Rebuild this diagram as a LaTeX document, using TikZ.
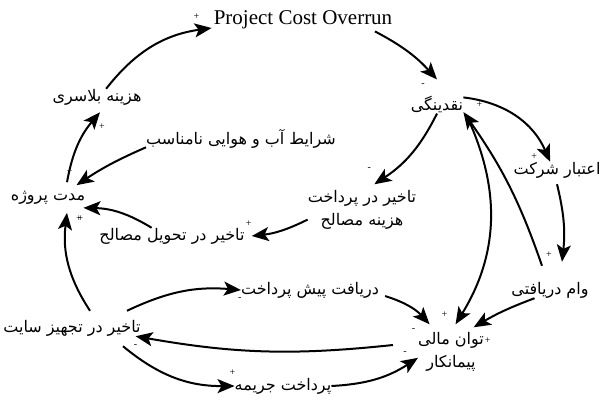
\documentclass[tikz,border=0pt]{standalone}
\usepackage{fontspec}
\setmainfont{Liberation Serif}
\newfontfamily\fafont[Script=Arabic]{DejaVu Sans}
\TeXXeTstate=1
\newcommand{\fa}[1]{{\fafont\beginR #1\endR}}
\usetikzlibrary{arrows.meta}
\tikzstyle{var} = [align=center, inner sep=0pt, font=\fontsize{16}{23}\selectfont]
\tikzstyle{line} = [draw, line width=2pt, -{Stealth[length=17pt,width=14pt,inset=4pt]}]
\tikzstyle{pol} = [inner sep=0pt, font=\fontsize{10}{10}\selectfont]

\begin{document}
\begin{tikzpicture}[x=1pt, y=1pt]
	\useasboundingbox (0,0) rectangle (604,416);

	\node [var, inner sep=2pt, font=\fontsize{21}{22}\selectfont] (cost) at (303,396) {Project Cost Overrun};
	\node [var] (liq) at (437,311) {\fa{نقدینگی}};
	\node [var] (credit) at (557,246) {\fa{اعتبار شرکت}};
	\node [var] (loan) at (550,126) {\fa{وام دریافتی}};
	\node [var] (fin) at (451,64) {\fa{توان مالی}\\\fa{پیمانکار}};
	\node [var] (prepay) at (310,126) {\fa{دریافت پیش پرداخت}};
	\node [var] (penalty) at (283,30) {\fa{پرداخت جریمه}};
	\node [var] (site) at (72,88) {\fa{تاخیر در تجهیز سایت}};
	\node [var] (duration) at (48,218) {\fa{مدت پروژه}};
	\node [var] (overhead) at (97,319) {\fa{هزینه بلاسری}};
	\node [var] (weather) at (241,277) {\fa{شرایط آب و هوایی نامناسب}};
	\node [var] (paydelay) at (362,206) {\fa{تاخیر در پرداخت}\\\fa{هزینه مصالح}};
	\node [var] (matdelay) at (172,180) {\fa{تاخیر در تحویل مصالح}};

	% outer loop
	\path [line] (overhead.42) to[bend left=22] node [pol, pos=1, xshift=-15pt, yshift=11pt] {+} (cost.185);
	\path [line] (cost.-9) to[bend left=10] node [pol, pos=1, xshift=-14pt, yshift=-6pt] {-} ([yshift=17pt]liq.north);
	\path [line] (liq.16) to[bend left=30] node [pol, pos=1, xshift=-16pt, yshift=5pt] {+} (credit.130);
	\path [line] ([yshift=-6pt]credit.south) to[bend left=10] node [pol, pos=1, xshift=-13pt, yshift=7pt] {+} ([xshift=12pt,yshift=20pt]loan.north);
	\path [line] (loan.208) to[bend right=5] node [pol, pos=1, xshift=14pt, yshift=-13pt] {+} ([yshift=5pt]fin.41);
	\path [line] ([xshift=-8pt,yshift=16pt]loan.north) to[bend right=8] node [pol, pos=1, xshift=16pt, yshift=7pt] {+} (liq.-15);
	\path [line] ([xshift=5pt,yshift=-6pt]liq.south east) to[bend left=28] node [pol, pos=1, xshift=-11pt, yshift=10pt] {+} ([yshift=8pt]fin.77);

	% material delays
	\path [line] (liq.south) to[bend left=15] node [pol, pos=1, xshift=-5pt, yshift=15pt] {-} ([yshift=6pt]paydelay.58);
	\path [line] (paydelay.190) to[bend left=10] node [pol, pos=1, xshift=-3pt, yshift=12pt] {+} ([xshift=7pt]matdelay.east);
	\path [line] (matdelay.158) to[bend right=15] node [pol, pos=1, xshift=-3pt, yshift=-11pt] {+} ([xshift=8pt,yshift=-3pt]duration.-14);
	\path [line] (weather.185) to[bend right=5] node [pol, pos=1, xshift=-7pt, yshift=13pt] {+} ([xshift=3pt,yshift=6pt]duration.15);
	\path [line] ([xshift=19pt,yshift=9pt]duration.north) to[bend left=15] node [pol, pos=1, xshift=2pt, yshift=-14pt] {+} ([xshift=3pt,yshift=-7pt]overhead.south);

	% site loop
	\path [line] ([xshift=18pt,yshift=9pt]site.north) to[bend left=20] node [pol, pos=1, xshift=12pt, yshift=-6pt] {+} ([xshift=19pt,yshift=-8pt]duration.south);
	\path [line] ([xshift=55pt,yshift=9pt]site.north) to[bend left=15] node [pol, pos=1, xshift=-1pt, yshift=-9pt] {-} (prepay.west);
	\path [line] ([xshift=-25pt,yshift=7pt]fin.west) to[bend left=8] node [pol, pos=1, yshift=-10pt] {-} ([xshift=5pt]site.-8);
	\path [line] ([xshift=51pt,yshift=-10pt]site.south) to[bend right=20] node [pol, pos=1, xshift=-2pt, yshift=13pt] {+} (penalty.west);
	\path [line] (penalty.east) to[bend right=15] node [pol, pos=1, xshift=-13pt, yshift=5pt] {-} (fin.190);
	\path [line] ([xshift=6pt]prepay.-5) to[bend left=15] node [pol, pos=1, xshift=-16pt, yshift=-6pt] {-} ([xshift=-6pt,yshift=8pt]fin.128);
\end{tikzpicture}
\end{document}
